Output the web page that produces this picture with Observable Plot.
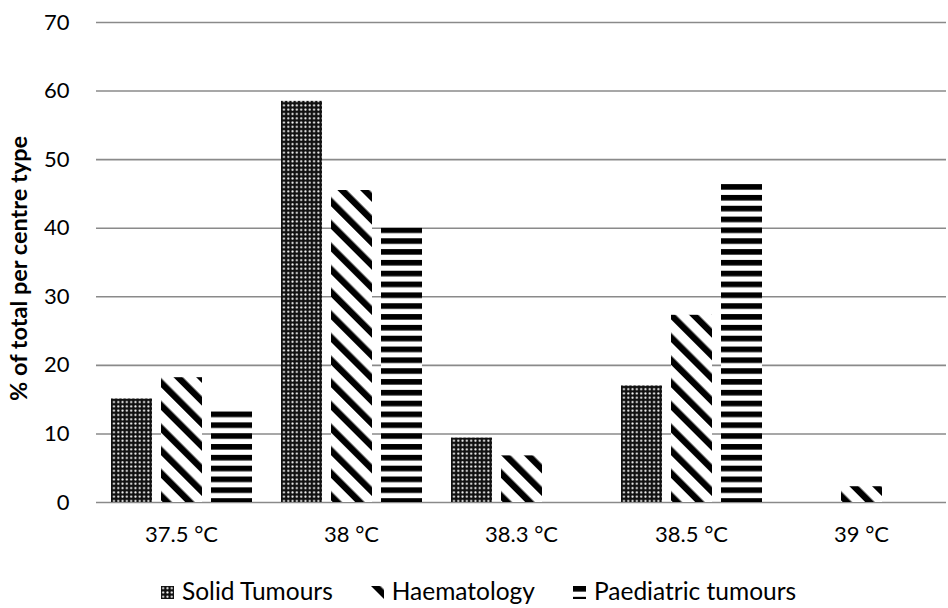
<!DOCTYPE html>
<html>
<head>
<meta charset="utf-8">
<script src="https://cdn.jsdelivr.net/npm/d3@7"></script>
<script src="https://cdn.jsdelivr.net/npm/@observablehq/plot@0.6"></script>
<style>
  body { margin: 0; background: #fff; font-family: Lato, "Open Sans", sans-serif; position: relative; width: 948px; height: 608px; overflow: hidden; }
  #legend { position: absolute; left: 161px; top: 576px; display: flex; align-items: center; font-size: 24.5px; line-height: 29px; color: #000; white-space: nowrap; }
  .item { display: flex; align-items: center; margin-right: 38px; }
  .item svg { margin-right: 8px; margin-top: 4px; }
</style>
</head>
<body>
<svg width="0" height="0" style="position:absolute">
  <defs>
    <pattern id="pDots" patternUnits="userSpaceOnUse" width="4.3" height="4.3">
      <rect width="4.3" height="4.3" fill="#111"/>
      <circle cx="2.15" cy="2.15" r="1.05" fill="#fff"/>
    </pattern>
    <pattern id="pDiag" patternUnits="userSpaceOnUse" width="16" height="16" patternTransform="rotate(-45)">
      <rect width="16" height="16" fill="#fff"/>
      <rect width="6.5" height="16" fill="#000"/>
    </pattern>
    <pattern id="pHoriz" patternUnits="userSpaceOnUse" width="10" height="10.83">
      <rect width="10" height="10.83" fill="#fff"/>
      <rect width="10" height="5.6" fill="#000"/>
    </pattern>
  </defs>
</svg>
<div id="chart"></div>
<div id="legend"></div>
<script>
const categories = ["37.5 °C", "38 °C", "38.3 °C", "38.5 °C", "39 °C"];
const series = ["Solid Tumours", "Haematology", "Paediatric tumours"];
const solidTumours = [15.1, 58.5, 9.4, 17.0, 0];
const haematology = [18.2, 45.5, 6.8, 27.3, 2.3];
const paediatricTumours = [13.3, 40.0, 0, 46.7, 0];
const yTicks = [0, 10, 20, 30, 40, 50, 60, 70];
const patterns = ["url(#pDots)", "url(#pDiag)", "url(#pHoriz)"];

const valuesBySeries = [solidTumours, haematology, paediatricTumours];
const data = [];
categories.forEach((c, i) => {
  series.forEach((s, j) => data.push({category: c, series: s, value: valuesBySeries[j][i]}));
});

const chart = Plot.plot({
  width: 948,
  height: 560,
  marginLeft: 96,
  marginRight: 2,
  marginTop: 22,
  marginBottom: 58,
  style: {fontFamily: "Lato, 'Open Sans', sans-serif", fontSize: "22px", color: "#000", background: "#fff"},
  fx: {domain: categories, padding: 0, label: null, axis: null},
  x: {domain: series, paddingInner: 0.188, paddingOuter: 0.277, axis: null},
  y: {domain: [0, 70], label: null, axis: null},
  marks: [
    Plot.gridY(yTicks, {stroke: "#8a8a8a", strokeWidth: 1.6, strokeOpacity: 1}),
    Plot.barY(data, {fx: "category", x: "series", y: "value", fill: d => patterns[series.indexOf(d.series)]}),
    Plot.axisY(yTicks, {tickSize: 0, tickPadding: 27, fontSize: 22, label: null}),
    Plot.axisFx({anchor: "bottom", tickSize: 0, tickPadding: 24, fontSize: 22, label: null}),
    Plot.text(["% of total per centre type"], {frameAnchor: "left", textAnchor: "middle", dx: -77, dy: 6, rotate: -90, fontWeight: "bold", fontSize: 23.5, facet: "super"})
  ]
});
document.getElementById("chart").appendChild(chart);

const legend = document.getElementById("legend");
series.forEach((s, j) => {
  const item = document.createElement("div");
  item.className = "item";
  item.innerHTML = `<svg width="13" height="13"><rect width="13" height="13" fill="${patterns[j]}"/></svg><span>${s}</span>`;
  legend.appendChild(item);
});
</script>
</body>
</html>
